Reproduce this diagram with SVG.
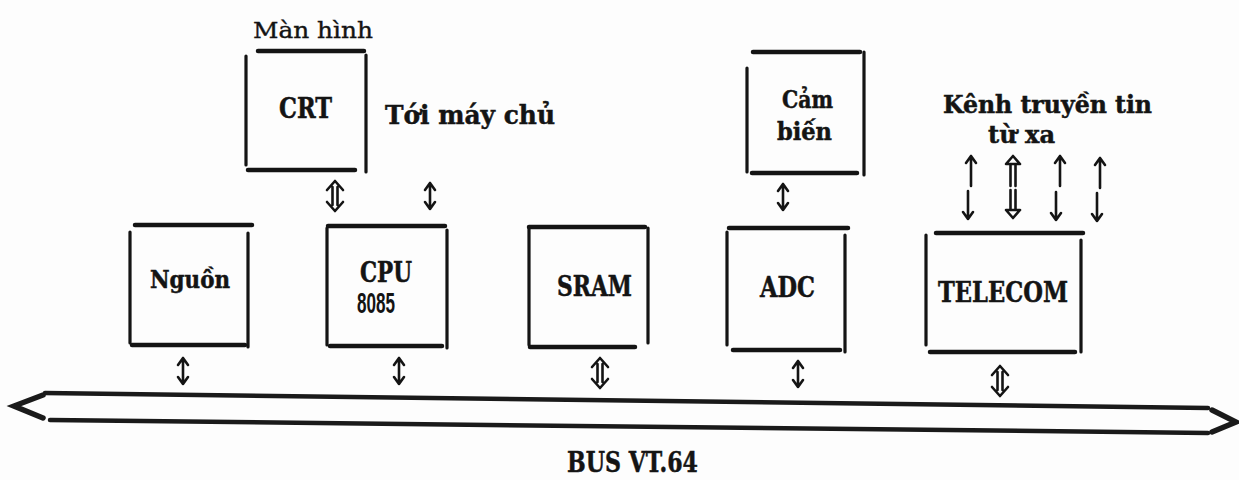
<svg xmlns="http://www.w3.org/2000/svg" width="1239" height="480" viewBox="0 0 1239 480">
<style>
.bg{fill:#fdfdfd}
.frame{fill:none;stroke:#141414;stroke-linecap:round}
.h{stroke-width:4.5}
.v{stroke-width:3.2}
.arr{fill:none;stroke:#141414;stroke-width:2.6;stroke-linecap:round;stroke-linejoin:round}
.bus{fill:none;stroke:#1a1a1a;stroke-width:4.5;stroke-linecap:round}
.chev{fill:none;stroke:#1a1a1a;stroke-width:5.5;stroke-linecap:round;stroke-linejoin:miter}
.lbl{font-family:"DejaVu Serif","Liberation Serif",serif;font-weight:bold;fill:#141414;stroke:#141414;stroke-width:0.5}
.reg{font-family:"DejaVu Serif","Liberation Serif",serif;font-weight:normal;fill:#141414;stroke:#141414;stroke-width:0.4}
.sans{font-family:"Liberation Sans","DejaVu Sans",sans-serif;font-weight:bold;fill:#141414}
</style>
<defs>
<path id="bi" class="arr" d="M0,-13 V13 M-5,-6 L0,-13 L5,-6 M-5,6 L0,13 L5,6"/>
<path id="bih" class="arr" d="M-2.5,-9 V9 M2.5,-9 V9 M-8,-6 L0,-15 L8,-6 M-8,6 L0,15 L8,6"/>
<path id="up" class="arr" d="M0,15 V-15 M-5,-8 L0,-15 L5,-8"/>
<path id="dn" class="arr" d="M0,-14 V14 M-5,7 L0,14 L5,7"/>
<path id="uph" class="arr" d="M-2.5,15 V-7 M2.5,15 V-7 M-7,-7 L0,-15 L7,-7 Z"/>
<path id="dnh" class="arr" d="M-2.5,-14 V6 M2.5,-14 V6 M-7,6 L0,14 L7,6 Z"/>
</defs>
<rect class="bg" x="0" y="0" width="1239" height="480"/>

<g id="label-manhinh"><text class="reg" x="253" y="38" font-size="23" textLength="120" lengthAdjust="spacingAndGlyphs">Màn hình</text></g>

<g id="node-crt">
<path class="frame h" d="M258,51 H364 M248,170 H355"/>
<path class="frame v" d="M246,56 V165 M366,55 V172"/>
<text class="lbl" x="279" y="118" font-size="27" textLength="53" lengthAdjust="spacingAndGlyphs">CRT</text>
</g>

<g id="label-toimaychu"><text class="lbl" x="385" y="124" font-size="26" textLength="170" lengthAdjust="spacingAndGlyphs">Tới máy chủ</text></g>

<g id="node-cambien">
<path class="frame h" d="M753,52 H860 M752,173 H857"/>
<path class="frame v" d="M747,68 V172 M864,52 V175"/>
<text class="lbl" x="782" y="108" font-size="24" textLength="51" lengthAdjust="spacingAndGlyphs">Cảm</text>
<text class="lbl" x="777" y="140" font-size="24" textLength="55" lengthAdjust="spacingAndGlyphs">biến</text>
</g>

<g id="label-kenh">
<text class="lbl" x="943" y="113" font-size="24" textLength="209" lengthAdjust="spacingAndGlyphs">Kênh truyền tin</text>
<text class="lbl" x="988" y="143" font-size="24" textLength="67" lengthAdjust="spacingAndGlyphs">từ xa</text>
</g>

<g id="node-nguon">
<path class="frame h" d="M135,225 H252 M132,345 H245"/>
<path class="frame v" d="M130,232 V343 M248,233 V347"/>
<text class="lbl" x="150" y="288" font-size="24" textLength="80" lengthAdjust="spacingAndGlyphs">Nguồn</text>
</g>

<g id="node-cpu">
<path class="frame h" d="M328,226 H445 M330,346 H442"/>
<path class="frame v" d="M327,228 V345 M447,230 V348"/>
<text class="lbl" x="360" y="282" font-size="27" textLength="52" lengthAdjust="spacingAndGlyphs">CPU</text>
<text class="sans" x="357" y="313" font-size="29" textLength="38" lengthAdjust="spacingAndGlyphs">8085</text>
</g>

<g id="node-sram">
<path class="frame h" d="M529,227 H645 M530,347 H635"/>
<path class="frame v" d="M529,228 V345 M648,228 V343"/>
<text class="lbl" x="557" y="296" font-size="27" textLength="75" lengthAdjust="spacingAndGlyphs">SRAM</text>
</g>

<g id="node-adc">
<path class="frame h" d="M729,228 H848 M733,350 H840"/>
<path class="frame v" d="M727,232 V345 M845,235 V352"/>
<text class="lbl" x="760" y="297" font-size="27" textLength="55" lengthAdjust="spacingAndGlyphs">ADC</text>
</g>

<g id="node-telecom">
<path class="frame h" d="M936,233 H1083 M930,352 H1075"/>
<path class="frame v" d="M926,235 V345 M1081,240 V352"/>
<text class="lbl" x="938" y="302" font-size="27" textLength="130" lengthAdjust="spacingAndGlyphs">TELECOM</text>
</g>

<g id="node-bus">
<path class="bus" d="M45,393 L1208,408 M50,420 L1208,433"/>
<path class="chev" d="M43,395 L14,406 L43,418"/>
<path class="chev" d="M1212,410 L1236,422 L1212,432"/>
<text class="lbl" x="567" y="472" font-size="28" textLength="131" lengthAdjust="spacingAndGlyphs">BUS VT.64</text>
</g>

<g id="connectors">
<use href="#bih" x="335" y="196"/>
<use href="#bi" x="430" y="196"/>
<use href="#bi" x="783" y="197"/>
<use href="#up" x="971" y="171"/>
<use href="#dn" x="968" y="205"/>
<use href="#uph" x="1013" y="171"/>
<use href="#dnh" x="1013" y="204"/>
<use href="#up" x="1060" y="171"/>
<use href="#dn" x="1056" y="206"/>
<use href="#up" x="1100" y="173"/>
<use href="#dn" x="1097" y="207"/>
<use href="#bi" x="183" y="371"/>
<use href="#bi" x="399" y="371"/>
<use href="#bih" x="600" y="373"/>
<use href="#bi" x="798" y="374"/>
<use href="#bih" x="1000" y="381"/>
</g>
</svg>
